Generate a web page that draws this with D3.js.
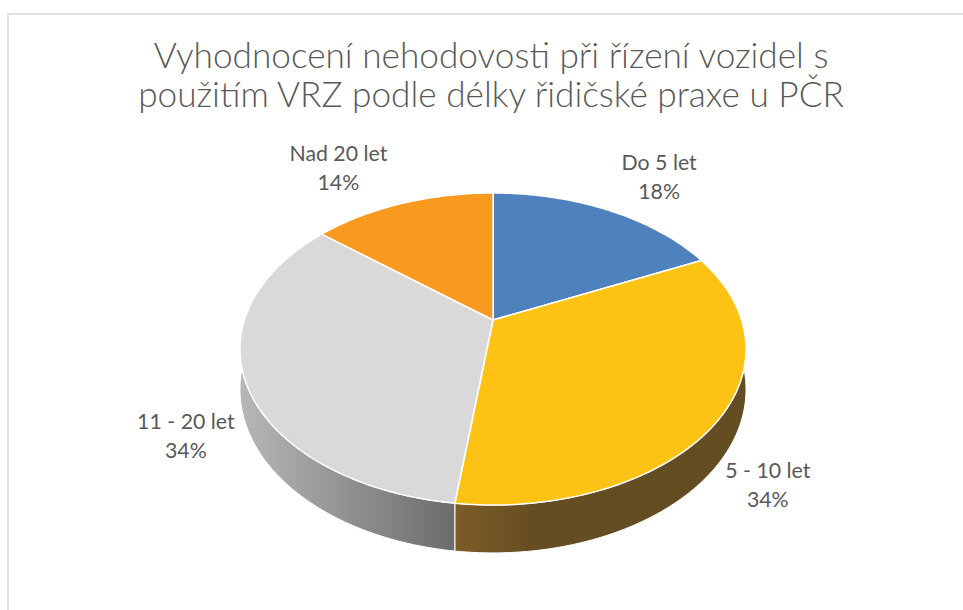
<!DOCTYPE html>
<html><head><meta charset="utf-8">
<script src="https://cdn.jsdelivr.net/npm/d3@7"></script>
<style>body{margin:0;background:#fff}svg{display:block}</style>
</head><body><svg id="c" width="963" height="610"></svg>
<script>
const categories = ["Do 5 let", "5 - 10 let", "11 - 20 let", "Nad 20 let"];
const values = [18, 34, 34, 14];
const percentLabels = ["18%", "34%", "34%", "14%"];
const colors = ["#4f81bd", "#fdc314", "#d9d9d9", "#f79a1f"];
const titleLines = ["Vyhodnocení nehodovosti při řízení vozidel s", "použitím VRZ podle délky řidičské praxe u PČR"];

const svg = d3.select("#c");
const FONT = "Lato, 'Open Sans', sans-serif";
const TEXT = "#595959";

svg.append("rect").attr("x", 8).attr("y", 14).attr("width", 1000).attr("height", 700)
  .attr("fill", "#fff").attr("stroke", "#dfe4e2").attr("stroke-width", 2);

// perspective projection of a unit disc (theta clockwise from 12 o'clock)
const cx = 493, cy = 320, a = 248.6, b = 150.6, k = -0.186, h = 39;
const xs = d3.scaleLinear().domain([-1, 1]).range([cx - a, cx + a]);
const ys = d3.scaleLinear().domain([-1, 1]).range([cy - b, cy + b]);
function proj(theta, r, depth) {
  const u = r * Math.sin(theta), v = -r * Math.cos(theta), d = 1 + k * v;
  return [xs(u / d), ys(v / d) + depth * h / d];
}
function arcPts(s, e, depth) {
  const n = Math.max(8, Math.ceil((e - s) / 0.02));
  return d3.range(n + 1).map(i => proj(s + (e - s) * i / n, 1, depth));
}
const line = d3.line();
const pie = d3.pie().sort(null).value(d => d);
const arcs = pie(values);

// side gradients
const defs = svg.append("defs");
const sideStops = [
  [["0", "#5d7a9e"], ["1", "#3b5473"]],
  [["0", "#7d5d28"], ["0.28", "#654c21"], ["1", "#644d23"]],
  [["0", "#b7b7b7"], ["1", "#6c6c6c"]],
  [["0", "#a6661a"], ["1", "#7a4c14"]]
];
arcs.forEach((d, i) => {
  const pts = arcPts(d.startAngle, d.endAngle, 0);
  const ext = d3.extent(pts, p => p[0]);
  const g = defs.append("linearGradient").attr("id", "side" + i)
    .attr("gradientUnits", "userSpaceOnUse")
    .attr("x1", ext[0]).attr("x2", ext[1]).attr("y1", 0).attr("y2", 0);
  sideStops[i].forEach(s => g.append("stop").attr("offset", s[0]).attr("stop-color", s[1]));
});

// sides
svg.append("g").selectAll("path").data(arcs).join("path")
  .attr("d", d => line(arcPts(d.startAngle, d.endAngle, 0).concat(arcPts(d.startAngle, d.endAngle, 1).reverse())) + "Z")
  .attr("fill", (d, i) => `url(#side${i})`)
  .attr("stroke", "#fff").attr("stroke-width", 1).attr("stroke-linejoin", "round");

// top faces
svg.append("g").selectAll("path").data(arcs).join("path")
  .attr("d", d => line([proj(0, 0, 0)].concat(arcPts(d.startAngle, d.endAngle, 0))) + "Z")
  .attr("fill", (d, i) => colors[i])
  .attr("stroke", "#fff").attr("stroke-width", 1.5).attr("stroke-linejoin", "round");

// title
const tg = svg.append("g").attr("font-family", FONT).attr("font-weight", 300).attr("fill", TEXT).attr("text-anchor", "middle");
const t1 = tg.append("text").attr("x", 491).attr("y", 68).attr("font-size", 32).text(titleLines[0]);
const w1 = t1.node().getComputedTextLength();
const tSize = 32 * 675 / w1;
t1.attr("font-size", tSize);
tg.append("text").attr("x", 491).attr("y", 107).attr("font-size", tSize).text(titleLines[1]);

// labels: offset from slice edge midpoint
const labelOffsets = [[51, -40], [49, 58.6], [-59, 49.5], [-64, -42]];
const lg = svg.append("g").attr("font-family", FONT).attr("fill", TEXT).attr("text-anchor", "middle");
const probe = lg.append("text").attr("font-size", 24).text("Nad 20 let");
const lSize = 24 * 98 / probe.node().getComputedTextLength();
probe.remove();
arcs.forEach((d, i) => {
  const p = proj((d.startAngle + d.endAngle) / 2, 1, 0);
  const x = p[0] + labelOffsets[i][0], y = p[1] + labelOffsets[i][1];
  lg.append("text").attr("x", x).attr("y", y).attr("font-size", lSize).text(categories[i]);
  lg.append("text").attr("x", x).attr("y", y + 29).attr("font-size", lSize).text(percentLabels[i]);
});
</script>
</body></html>
